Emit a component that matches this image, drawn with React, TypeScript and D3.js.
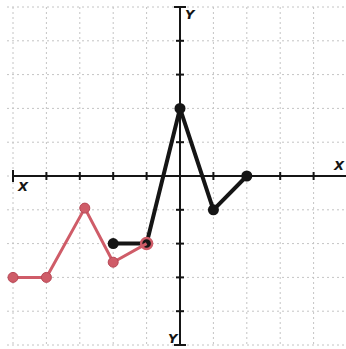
import React from "react";
import * as d3 from "d3";

const gridUnits = [-5, -4, -3, -2, -1, 0, 1, 2, 3, 4, 5];
const tickUnits = [-4, -3, -2, -1, 1, 2, 3, 4];

// black polyline
const blackX = [-2, -1, 0, 1, 2];
const blackY = [-2, -2, 2, -1, 0];

// red polyline
const redX = [-5, -4, -2.85, -2, -1];
const redY = [-3, -3, -0.95, -2.55, -2];

const W = 346;
const H = 349;

export default function App() {
  const x = d3.scaleLinear().domain([-5, 5]).range([13, 347]);
  const y = d3.scaleLinear().domain([-5, 5]).range([345, 7]);

  const line = d3
    .line<[number, number]>()
    .x((d) => x(d[0]))
    .y((d) => y(d[1]));

  const blackPts: [number, number][] = blackX.map((v, i) => [v, blackY[i]]);
  const redPts: [number, number][] = redX.map((v, i) => [v, redY[i]]);

  const red = "#cf5c68";
  const ink = "#151515";
  const gridCol = "#c4c4c4";

  return (
    <svg
      width={W}
      height={H}
      style={{ position: "absolute", left: 0, top: 0, display: "block", background: "#fff" }}
    >
      {/* graph paper grid */}
      <g stroke={gridCol} strokeWidth={1} strokeDasharray="2 3">
        {gridUnits.map((u) => (
          <line key={"v" + u} x1={x(u)} x2={x(u)} y1={y(5)} y2={y(-5)} />
        ))}
        {gridUnits.map((u) => (
          <line key={"h" + u} x1={x(-5) - 6} x2={x(5)} y1={y(u)} y2={y(u)} />
        ))}
      </g>

      {/* axes */}
      <g stroke={ink} strokeWidth={2}>
        <line x1={x(-5)} x2={x(5)} y1={y(0)} y2={y(0)} />
        <line x1={x(0)} x2={x(0)} y1={y(5)} y2={y(-5)} />
        <line x1={x(-5)} x2={x(-5)} y1={y(0) - 6} y2={y(0) + 6} />
        <line x1={x(0) - 6} x2={x(0) + 6} y1={y(5)} y2={y(5)} />
        <line x1={x(0) - 6} x2={x(0) + 6} y1={y(-5)} y2={y(-5)} />
        {tickUnits.map((u) => (
          <line key={"tx" + u} x1={x(u)} x2={x(u)} y1={y(0) - 4} y2={y(0) + 4} />
        ))}
        {tickUnits.map((u) => (
          <line key={"ty" + u} x1={x(0) - 4} x2={x(0) + 4} y1={y(u)} y2={y(u)} />
        ))}
      </g>

      {/* axis labels */}
      <g fontFamily="DejaVu Sans, sans-serif" fontWeight="bold" fontStyle="italic" fontSize={13} fill={ink}>
        <text x={x(-5) + 5} y={y(0) + 15}>X</text>
        <text x={x(5) - 13} y={y(0) - 6}>X</text>
        <text x={x(0) + 5} y={y(5) + 12}>Y</text>
        <text x={x(0) - 12} y={y(-5) - 2}>Y</text>
      </g>

      {/* black series */}
      <path d={line(blackPts) ?? ""} fill="none" stroke={ink} strokeWidth={4} strokeLinejoin="round" />
      {blackPts.map((p, i) => (
        <circle key={"b" + i} cx={x(p[0])} cy={y(p[1])} r={5.5} fill={ink} />
      ))}

      {/* red series, drawn over the black one where they meet */}
      <path d={line(redPts) ?? ""} fill="none" stroke={red} strokeWidth={3} strokeLinejoin="round" />
      {redPts.map((p, i) =>
        i === redPts.length - 1 ? (
          <circle key={"r" + i} cx={x(p[0])} cy={y(p[1])} r={5.5} fill="none" stroke={red} strokeWidth={2.5} />
        ) : (
          <circle key={"r" + i} cx={x(p[0])} cy={y(p[1])} r={5} fill={red} stroke="#b84856" strokeWidth={1} />
        )
      )}
    </svg>
  );
}
